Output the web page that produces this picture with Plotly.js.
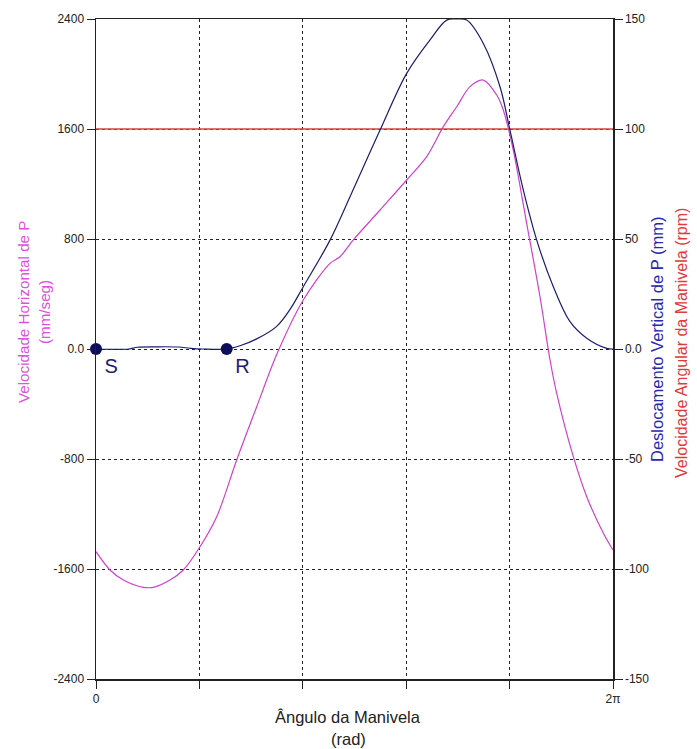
<!DOCTYPE html>
<html><head><meta charset="utf-8">
<script src="https://cdn.plot.ly/plotly-3.0.1.min.js"></script>
<style>html,body{margin:0;padding:0;background:#fff}#c{width:697px;height:749px}</style>
</head><body><div id="c"></div>
<script>
// Blue: vertical displacement of P (mm), right axis
const angleDisp = [0, 0.40, 0.50, 0.75, 1.00, 1.15, 1.30, 1.588, 1.75, 1.953, 2.196, 2.358, 2.519, 2.844, 3.087, 3.452, 3.776, 4.059, 4.262, 4.375, 4.505, 4.707, 4.910, 5.031, 5.193, 5.356, 5.558, 5.761, 5.964, 6.207, 6.283];
const dispP = [0, 0, 0.8, 1.0, 0.9, 0.3, 0, 0, 1.5, 4.6, 10.3, 18.0, 28.3, 49.5, 69.2, 99.5, 125.3, 140.5, 149.5, 150, 149.5, 138.9, 119.2, 99.5, 72.3, 49.5, 28.3, 12.4, 4.9, 0.3, 0];
// Magenta: horizontal velocity of P (mm/seg), left axis
const angleVel = [0, 0.170, 0.332, 0.575, 0.696, 0.899, 1.061, 1.264, 1.467, 1.710, 1.953, 2.196, 2.519, 2.844, 2.965, 3.127, 3.452, 3.776, 4.019, 4.221, 4.384, 4.545, 4.707, 4.870, 4.950, 5.071, 5.234, 5.396, 5.518, 5.599, 5.801, 5.964, 6.166, 6.283];
const velH = [-1474, -1607, -1680, -1733, -1733, -1680, -1607, -1438, -1220, -807, -420, -40, 356, 623, 671, 793, 1011, 1229, 1399, 1617, 1762, 1908, 1956, 1847, 1738, 1447, 914, 380, -80, -322, -783, -1074, -1340, -1462];
// Red: crank angular velocity (rpm), right axis
const angleRpm = [0, 6.2832];
const rpm = [100, 100];
// Points S and R
const ptAngle = [0, 1.588];
const ptDisp = [0, 0];
const ptLabel = ['S', 'R'];
// Ticks
const xTickVals = [0, 1.2566, 2.5133, 3.7699, 5.0265, 6.2832];
const xTickText = ['0', '', '', '', '', '2\u03c0'];
const yTickVals = [2400, 1600, 800, 0, -800, -1600, -2400];
const yTickText = ['2400', '1600', '800', '0.0', '-800', '-1600', '-2400'];
const y2TickVals = [150, 100, 50, 0, -50, -100, -150];
const y2TickText = ['150', '100', '50', '0.0', '-50', '-100', '-150'];

const FONT = 'Liberation Sans, Arial, sans-serif';
const traces = [
  {x: angleRpm, y: rpm, yaxis: 'y2', mode: 'lines', line: {color: '#d84444', width: 1.3}, hoverinfo: 'skip'},
  {x: angleVel, y: velH, mode: 'lines', line: {color: '#d040d0', width: 1.2, shape: 'spline', smoothing: 0.9}, hoverinfo: 'skip'},
  {x: angleDisp, y: dispP, yaxis: 'y2', mode: 'lines', line: {color: '#1c1c70', width: 1.2, shape: 'spline', smoothing: 1.0}, hoverinfo: 'skip'},
  {x: ptAngle, y: ptDisp, yaxis: 'y2', mode: 'markers+text', text: ptLabel, textposition: 'bottom right',
   textfont: {family: FONT, size: 20, color: '#1c1c70'}, marker: {color: '#0d0d5a', size: 12}, cliponaxis: false, hoverinfo: 'skip'}
];
const layout = {
  width: 697, height: 749, showlegend: false,
  paper_bgcolor: '#fff', plot_bgcolor: '#fff',
  margin: {l: 96, r: 84, t: 19, b: 70},
  font: {family: FONT, size: 12, color: '#222'},
  xaxis: {range: [0, 6.2832], tickvals: xTickVals, ticktext: xTickText, ticks: 'outside', ticklen: 8, tickcolor: '#222',
    showgrid: true, gridcolor: '#222', griddash: '3px,3px', gridwidth: 1, zeroline: false,
    showline: true, linecolor: '#222', linewidth: 1.5, mirror: true, tickfont: {size: 12}},
  yaxis: {range: [-2400, 2400], tickvals: yTickVals, ticktext: yTickText, ticks: 'outside', ticklen: 8, tickcolor: '#222',
    showgrid: true, gridcolor: '#222', griddash: '3px,3px', gridwidth: 1, zeroline: false,
    showline: true, linecolor: '#222', linewidth: 1.5, tickfont: {size: 12}},
  yaxis2: {overlaying: 'y', side: 'right', range: [-150, 150], tickvals: y2TickVals, ticktext: y2TickText,
    ticks: 'outside', ticklen: 8, tickcolor: '#222', showgrid: false, zeroline: false,
    showline: true, linecolor: '#222', linewidth: 1.5, tickfont: {size: 12}},
  annotations: [
    {xref: 'paper', yref: 'paper', x: (348-96)/517, y: -(717-679)/660, text: '\u00c2ngulo da Manivela', showarrow: false,
     font: {size: 16.5, color: '#222'}, xanchor: 'center', yanchor: 'middle'},
    {xref: 'paper', yref: 'paper', x: (348-96)/517, y: -(739-679)/660, text: '(rad)', showarrow: false,
     font: {size: 16.5, color: '#222'}, xanchor: 'center', yanchor: 'middle'},
    {xref: 'paper', yref: 'paper', x: (23-96)/517, y: (679-312)/660, text: 'Velocidade Horizontal de P', showarrow: false,
     textangle: -90, font: {size: 15.2, color: '#e050e0'}, xanchor: 'center', yanchor: 'middle'},
    {xref: 'paper', yref: 'paper', x: (44-96)/517, y: (679-312)/660, text: '(mm/seg)', showarrow: false,
     textangle: -90, font: {size: 15.2, color: '#e050e0'}, xanchor: 'center', yanchor: 'middle'},
    {xref: 'paper', yref: 'paper', x: (657-96)/517, y: (679-340)/660, text: 'Deslocamento Vertical de P (mm)', showarrow: false,
     textangle: -90, font: {size: 16.5, color: '#2828b0'}, xanchor: 'center', yanchor: 'middle'},
    {xref: 'paper', yref: 'paper', x: (681-96)/517, y: (679-343)/660, text: 'Velocidade Angular da Manivela (rpm)', showarrow: false,
     textangle: -90, font: {size: 16, color: '#e03a3a'}, xanchor: 'center', yanchor: 'middle'}
  ]
};
Plotly.newPlot('c', traces, layout, {staticPlot: true});
</script></body></html>
